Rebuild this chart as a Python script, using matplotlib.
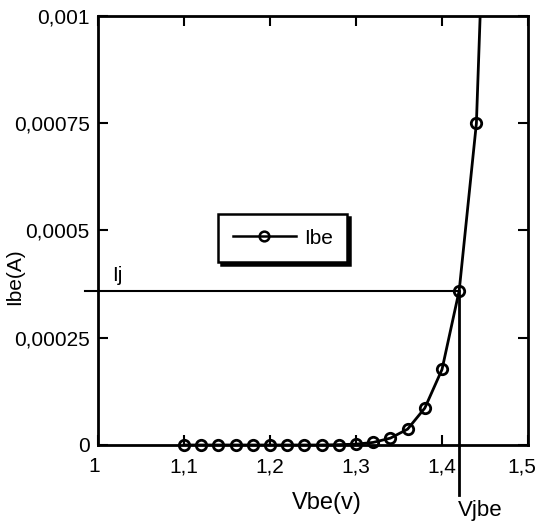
import numpy as np
import matplotlib.pyplot as plt
from matplotlib.lines import Line2D
from matplotlib.transforms import ScaledTranslation

plt.rcParams['font.family'] = ['Liberation Sans', 'DejaVu Sans']

# measured points (Vbe in V, Ibe in A)
vbe = [1.10, 1.12, 1.14, 1.16, 1.18, 1.20, 1.22, 1.24, 1.26, 1.28,
       1.30, 1.32, 1.34, 1.36, 1.38, 1.40, 1.42, 1.44, 1.46]
ibe = [0.0, 0.0, 0.0, 0.0, 0.0, 0.0, 0.0, 0.0, 0.0, 0.0000008,
       0.000002, 0.000006, 0.000016, 0.000037, 0.000086, 0.000176, 0.00036, 0.00075, 0.0019]

vj = 1.42
ij = 0.00036

x_ticks = [1, 1.1, 1.2, 1.3, 1.4, 1.5]
x_labels = ['1', '1,1', '1,2', '1,3', '1,4', '1,5']
y_ticks = [0, 0.00025, 0.0005, 0.00075, 0.001]
y_labels = ['0', '0,00025', '0,0005', '0,00075', '0,001']

fig = plt.figure(figsize=(5.39, 5.27), dpi=100)
ax = fig.add_axes([98/539, 1-445/527, 430/539, 429/527])

# curve (clipped at the top)
ax.plot(vbe, ibe, color='k', lw=2, zorder=3)
# markers, not clipped at the bottom axis
vis = [i for i in range(len(vbe)) if ibe[i] <= 0.001]
ax.plot([vbe[i] for i in vis], [ibe[i] for i in vis], ls='none', marker='o',
        ms=7.5, mfc='none', mec='k', mew=2, clip_on=False, zorder=4)

# Ij / Vjbe construction lines
ax.plot([0.985, vj], [ij, ij], color='k', lw=1.5, clip_on=False, zorder=3)
ax.plot([vj, vj], [ij, -0.000117], color='k', lw=2, clip_on=False, zorder=3)
ax.text(1.022, ij + 0.000012, 'Ij', fontsize=15, ha='center', va='bottom')
ax.text(vj - 0.001, -0.000152, 'Vjbe', fontsize=16, ha='left', va='center')

ax.set_xlim(1, 1.5)
ax.set_ylim(0, 0.001)
ax.set_xticks(x_ticks)
ax.set_xticklabels(x_labels)
ax.set_yticks(y_ticks)
ax.set_yticklabels(y_labels)
ax.tick_params(direction='in', top=True, right=True, length=7, width=1.5,
               labelsize=15)
ax.tick_params(axis='x', pad=9)
ax.tick_params(axis='y', pad=6)
for sp in ax.spines.values():
    sp.set_linewidth(2)

# nudge end labels like the original
xl = ax.get_xticklabels()
xl[0].set_transform(xl[0].get_transform() + ScaledTranslation(-4/100, 0, fig.dpi_scale_trans))
xl[-1].set_transform(xl[-1].get_transform() + ScaledTranslation(-6/100, 0, fig.dpi_scale_trans))

fig.text(327/539, 1-503/527, 'Vbe(v)', fontsize=17, ha='center', va='center')
fig.text(15/539, 1-277/527, 'Ibe(A)', fontsize=15, ha='center', va='center',
         rotation=90)

handle = Line2D([], [], color='k', lw=1.8, marker='o', ms=7, mfc='none',
                mec='k', mew=1.8)
leg = ax.legend([handle], ['Ibe'], loc='center', bbox_to_anchor=(0.43, 0.482),
                fancybox=False, edgecolor='k', framealpha=1, fontsize=15,
                handlelength=3.0, handletextpad=0.4, borderpad=0.7,
                shadow={'color': 'k', 'alpha': 1})
leg.get_frame().set_linewidth(1.8)

fig.savefig('out.png', dpi=100)
